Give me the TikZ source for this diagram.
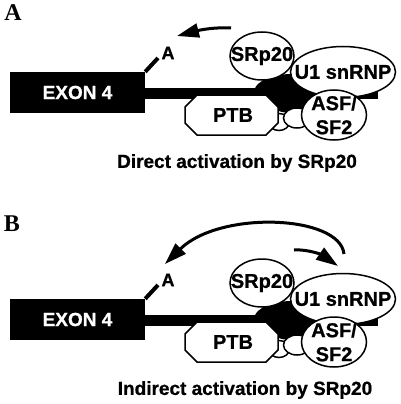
\documentclass[tikz,border=0pt]{standalone}
\usepackage{fontspec}
\setmainfont{Liberation Serif}
\newfontfamily\hv[BoldFeatures={FakeBold=0.8}]{Liberation Sans}
\usetikzlibrary{arrows.meta,shapes.geometric}
\newcommand\hvb{\hv\bfseries\fontsize{19}{20}\selectfont}
\newcommand\hvc{\hv\bfseries\fontsize{20}{24}\selectfont}
\newcommand\drawmolecules[1]{%
  \node[exonbox] (exon#1) at (77.5,92.5) {EXON 4};
  \coordinate (end#1) at (378,93);
  \coordinate (stub#1) at (158,58);
  \draw[line width=11pt] (exon#1.east |- end#1) -- (end#1);
  \draw[line width=4pt] (exon#1.north east) -- (stub#1);
  \node[small] (a#1) at (168,53) {A};
  \fill[black] plot[smooth cycle] coordinates {(255,89) (272,76) (300,75) (324,86) (320,106) (292,113) (272,108)};
  \node[blob, minimum width=21pt, minimum height=17pt] (sa#1) at (279,122) {};
  \node[blob, minimum width=27pt, minimum height=20pt] (sb#1) at (297,118) {};
  \draw[obj] (185,107) -- (197,95) -- (266,95) -- (278,107) -- (278,123) -- (266,135) -- (197,135) -- (185,123) -- cycle;
  \node[lbl, font=\hvc] (ptb#1) at (233,115) {PTB};
  \node[blob, minimum width=64pt, minimum height=48pt] (sr#1) at (262,56) {};
  \node[lbl, font=\hvc] (srt#1) at (sr#1.center) {SRp20};
  \node[blob, minimum width=105pt, minimum height=51pt] (u1#1) at (343,72) {};
  \node[lbl, font=\hvc] (u1t#1) at (u1#1.center) {U1 snRNP};
  \node[blob, minimum width=65pt, minimum height=50pt] (asf#1) at (334,115) {};
  \node[lbl, font=\hvc, align=center] (asft#1) at (asf#1.center) {ASF/\\SF2};
}
\begin{document}
\begin{tikzpicture}[x=1pt,y=-1pt,
  obj/.style={draw=black, fill=white, line width=1.5pt},
  blob/.style={obj, ellipse, inner sep=0pt},
  lbl/.style={font=\hvb, inner sep=0pt},
  small/.style={font=\hv\bfseries\fontsize{18}{20}\selectfont, inner sep=0pt},
  panel/.style={font=\bfseries\fontsize{24}{26}\selectfont, inner sep=0pt},
  exonbox/.style={fill=black, text=white, minimum width=135pt, minimum height=41pt, inner sep=0pt, font=\hvb},
  fat/.style={line width=3pt, -{Triangle[length=22pt,width=14pt]}},
]
\useasboundingbox (0,0) rectangle (400,404);

% Panel A
\node[panel] (labA) at (13,13) {A};
\drawmolecules{A}
\coordinate (tailA) at (231,28);
\coordinate (tipA) at (177,36);
\draw[fat] (tailA) .. controls (215,27) and (200,30) .. (tipA);
\node[lbl] (capA) at (237,163) {Direct activation by SRp20};

% Panel B
\node[panel] (labB) at (12,224) {B};
\begin{scope}[yshift=-227pt]
\drawmolecules{B}
\coordinate (tailB) at (344,27);
\coordinate (tipB) at (165,37);
\draw[fat] (tailB) .. controls (340,-12) and (220,-17) .. (tipB);
\coordinate (tailC) at (294,23);
\coordinate (tipC) at (338,39);
\draw[fat] (tailC) .. controls (308,22) and (322,28) .. (tipC);
\node[lbl] (capB) at (245,163) {Indirect activation by SRp20};
\end{scope}
\end{tikzpicture}
\end{document}
